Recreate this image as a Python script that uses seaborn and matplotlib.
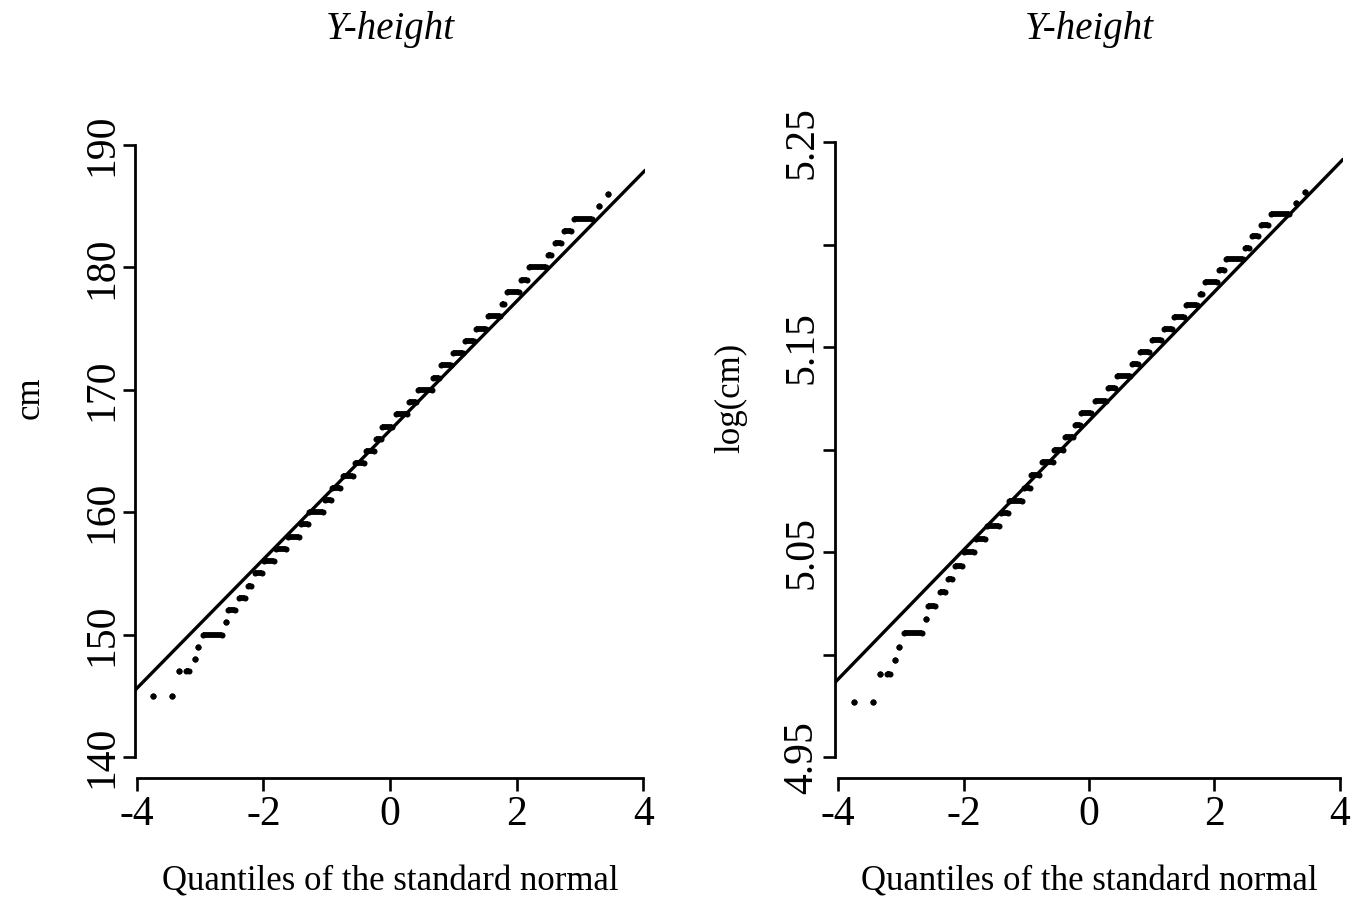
import numpy as np
import pandas as pd
import matplotlib
matplotlib.use("Agg")
import matplotlib.pyplot as plt
import seaborn as sns

# Step data: each run of tied heights (cm) and the
# range of standard-normal quantiles it covers
height = [145, 145, 147, 147, 148, 149, 150, 151, 152, 153, 154, 155, 156,
          157, 158, 159, 160, 161, 162, 163, 164, 165, 166, 167, 168, 169,
          170, 171, 172, 173, 174, 175, 176, 177, 178, 179, 180, 181, 182,
          183, 184, 185, 186]
q_start = [-3.74, -3.45, -3.33, -3.22, -3.09, -3.03, -2.95, -2.60, -2.56,
           -2.38, -2.25, -2.13, -1.99, -1.80, -1.62, -1.41, -1.28, -1.03,
           -0.92, -0.75, -0.55, -0.38, -0.22, -0.12, 0.09, 0.30, 0.44, 0.68,
           0.81, 1.00, 1.19, 1.36, 1.54, 1.77, 1.85, 2.07, 2.19, 2.49, 2.60,
           2.75, 2.91, 3.30, 3.44]
q_end = [-3.74, -3.45, -3.33, -3.17, -3.09, -3.03, -2.66, -2.60, -2.45,
         -2.30, -2.19, -2.02, -1.83, -1.65, -1.44, -1.29, -1.06, -0.94,
         -0.79, -0.58, -0.41, -0.25, -0.15, 0.03, 0.27, 0.41, 0.66, 0.78,
         0.96, 1.15, 1.33, 1.51, 1.73, 1.80, 2.04, 2.16, 2.46, 2.55, 2.70,
         2.86, 3.19, 3.30, 3.44]

# reference lines (intercept, slope) for the two panels
cm_line = (166.7, 5.27)
log_line = (5.114, 0.0315)

steps = pd.DataFrame({"height": height, "q0": q_start, "q1": q_end})
steps["log_height"] = np.log(steps["height"])

sns.set_theme(style="white")
plt.rcParams["font.family"] = ["Liberation Serif", "DejaVu Serif"]

fig = plt.figure(figsize=(13.53, 9.14), dpi=100)
ax1 = fig.add_axes([0.0998, 0.149, 0.377, 0.715])
ax2 = fig.add_axes([0.6171, 0.149, 0.3755, 0.715])

panels = [
    (ax1, "height", cm_line, (-4.03, 4.03), (138.3, 191.7),
     [140, 150, 160, 170, 180, 190],
     ["140", "150", "160", "170", "180", "190"], "cm"),
    (ax2, "log_height", log_line, (-4.05, 4.05), (4.9399, 5.2587),
     [4.95, 5.0, 5.05, 5.1, 5.15, 5.2, 5.25],
     ["4.95", "", "5.05", "", "5.15", "", "5.25"], "log(cm)"),
]

for ax, col, (b0, b1), xlim, ylim, yt, ytl, ylab in panels:
    ax.set_facecolor("white")
    ax.hlines(steps[col], steps["q0"], steps["q1"], color="black", lw=4.2)
    pts = pd.concat([
        pd.DataFrame({"q": steps["q0"], "y": steps[col]}),
        pd.DataFrame({"q": steps["q1"], "y": steps[col]}),
    ])
    sns.scatterplot(data=pts, x="q", y="y", ax=ax, color="black", s=19,
                    linewidth=0, legend=False)
    ax.axline((0, b0), slope=b1, color="black", lw=2.4)

    ax.set_xlim(*xlim)
    ax.set_ylim(*ylim)
    ax.set_xticks([-4, -2, 0, 2, 4])
    ax.set_xticklabels(["-4", "-2", "0", "2", "4"])
    ax.set_yticks(yt)
    ax.set_yticklabels(ytl)
    ax.tick_params(axis="both", direction="out", length=9, width=1.9,
                   labelsize=30, color="black", labelcolor="black",
                   left=True, bottom=True)
    ax.tick_params(axis="x", pad=4)
    ax.tick_params(axis="y", pad=1)
    for lbl in ax.get_yticklabels():
        lbl.set_rotation(90)
        lbl.set_va("center")

    for s in ["top", "right"]:
        ax.spines[s].set_visible(False)
    ax.spines["left"].set_bounds(yt[0], yt[-1])
    ax.spines["bottom"].set_bounds(-4, 4)
    for s in ["left", "bottom"]:
        ax.spines[s].set_color("black")
        ax.spines[s].set_linewidth(2.0)

    ax.set_xlabel("Quantiles of the standard normal", fontsize=25,
                  color="black", va="center")
    ax.xaxis.set_label_coords(0.5, -0.159)
    ax.set_ylabel(ylab, fontsize=25, color="black", va="center")
    ax.yaxis.set_label_coords(-0.206, 0.581)

    # panel title sits well above the plot region
    bb = ax.get_position()
    fig.text(bb.x0 + bb.width / 2, 1 - 30 / 914, "Y-height", fontsize=28,
             style="italic", color="black", ha="center", va="center")

fig.savefig("out.png", dpi=100, facecolor="white")
